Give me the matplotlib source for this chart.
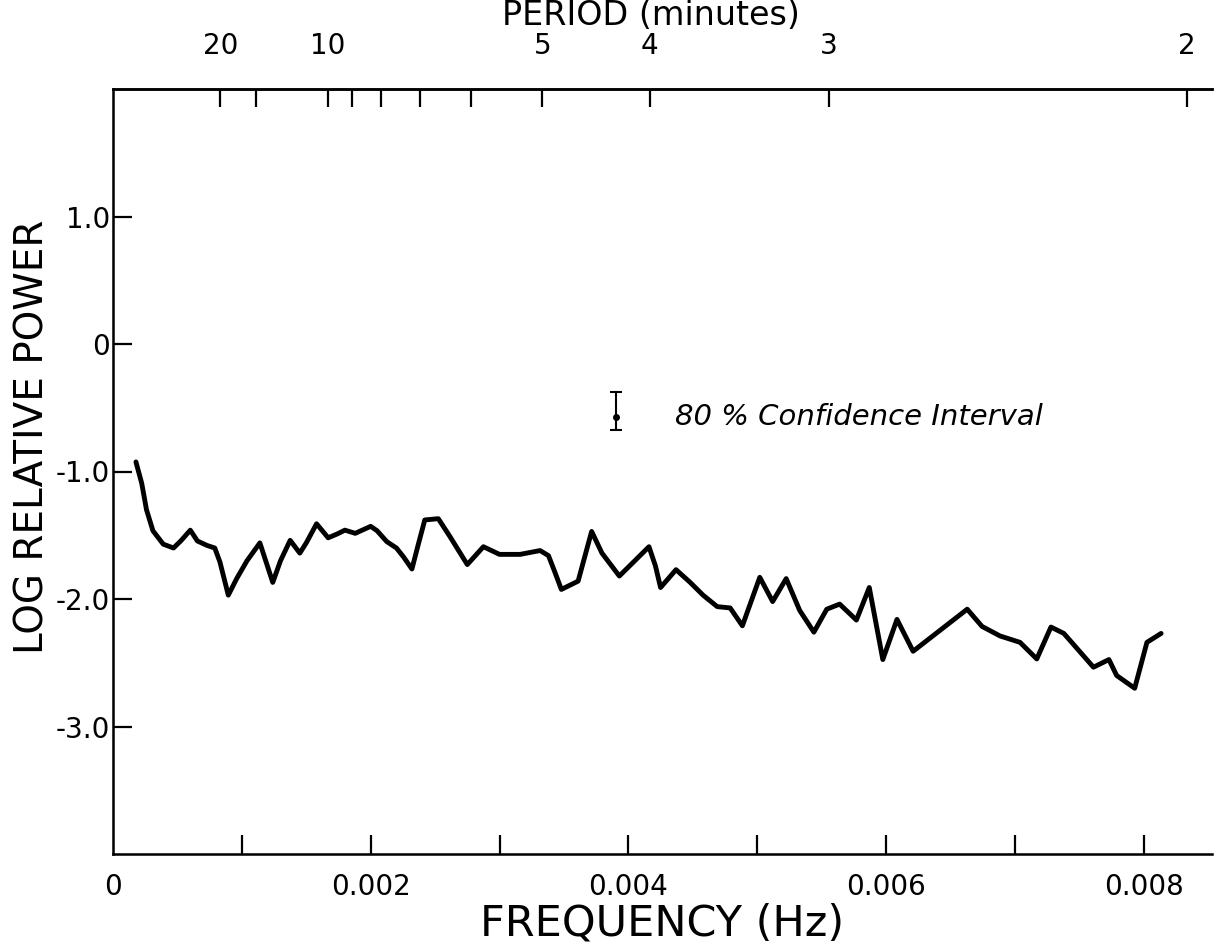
import matplotlib
matplotlib.use("Agg")
import matplotlib.pyplot as plt
import numpy as np

# ---- data (frequency in mHz, log relative power) ----
freq_mhz = [0.178, 0.223, 0.26, 0.31, 0.39, 0.47, 0.53, 0.60, 0.655, 0.73, 0.79, 0.83,
            0.895, 0.96, 1.04, 1.14, 1.24, 1.30, 1.375, 1.45, 1.50, 1.58, 1.67, 1.74,
            1.80, 1.88, 2.00, 2.05, 2.125, 2.20, 2.255, 2.32, 2.37, 2.42, 2.525, 2.615,
            2.75, 2.875, 3.00, 3.16, 3.315, 3.38, 3.43, 3.48, 3.61, 3.715, 3.795, 3.93,
            4.16, 4.21, 4.25, 4.37, 4.48, 4.58, 4.69, 4.79, 4.885, 5.02, 5.12, 5.225,
            5.33, 5.44, 5.54, 5.64, 5.77, 5.87, 5.975, 6.085, 6.21, 6.63, 6.745, 6.885,
            7.04, 7.17, 7.28, 7.38, 7.48, 7.61, 7.73, 7.79, 7.93, 8.025, 8.135]
log_power = [-0.925, -1.093, -1.30, -1.465, -1.57, -1.60, -1.54, -1.46, -1.545, -1.58, -1.60, -1.71,
             -1.97, -1.84, -1.70, -1.56, -1.87, -1.70, -1.54, -1.64, -1.56, -1.41, -1.52, -1.49,
             -1.46, -1.485, -1.43, -1.465, -1.55, -1.60, -1.67, -1.765, -1.57, -1.38, -1.37, -1.51,
             -1.73, -1.59, -1.65, -1.65, -1.62, -1.66, -1.79, -1.925, -1.86, -1.47, -1.64, -1.82,
             -1.59, -1.74, -1.91, -1.77, -1.87, -1.97, -2.06, -2.07, -2.21, -1.83, -2.02, -1.84,
             -2.09, -2.26, -2.08, -2.04, -2.165, -1.91, -2.475, -2.16, -2.41, -2.08, -2.215, -2.29,
             -2.34, -2.47, -2.22, -2.27, -2.385, -2.535, -2.475, -2.60, -2.70, -2.34, -2.27]

x_ticks = [0.001, 0.002, 0.003, 0.004, 0.005, 0.006, 0.007, 0.008]
x_labels = ["", "0.002", "", "0.004", "", "0.006", "", "0.008"]
y_ticks = [1.0, 0.0, -1.0, -2.0, -3.0]
y_labels = ["1.0", "0", "-1.0", "-2.0", "-3.0"]
period_ticks = [20, 15, 10, 9, 8, 7, 6, 5, 4, 3, 2]
period_labeled = [20, 10, 5, 4, 3, 2]

ci_freq = 0.003905
ci_center = -0.57
ci_low = -0.675
ci_high = -0.38

# ---- figure ----
plt.rcParams['font.family'] = ['DejaVu Sans']
fig = plt.figure(figsize=(12.14, 9.52), dpi=100)
ax = fig.add_axes([113/1214, 1-854/952, (1212-113)/1214, (854-89)/952])

fx = np.array(freq_mhz) * 1e-3
ax.plot(fx, log_power, color='black', lw=3.5, solid_joinstyle='round', solid_capstyle='round')

ax.set_xlim(0, 0.00853)
ax.set_ylim(-4.0, 2.0)

for s in ['left', 'bottom', 'top']:
    ax.spines[s].set_linewidth(1.8)
ax.spines['right'].set_visible(False)

ax.set_xticks(x_ticks)
ax.set_xticklabels(x_labels)
ax.tick_params(axis='x', direction='in', length=14, width=1.6, labelsize=20, pad=14)
ax.annotate("0", xy=(0, 0), xycoords=('data', 'axes fraction'), xytext=(0, -14),
            textcoords='offset points', ha='center', va='top', fontsize=20)

ax.set_yticks(y_ticks)
ax.set_yticklabels(y_labels)
ax.tick_params(axis='y', direction='in', length=14, width=1.6, labelsize=20, pad=2)
for lab in ax.get_yticklabels():
    lab.set_verticalalignment('center_baseline')

# top period axis
ax2 = ax.twiny()
ax2.set_xlim(ax.get_xlim())
ax2.spines['right'].set_visible(False)
ax2.spines['top'].set_linewidth(1.8)
ptick_f = [1.0 / (60.0 * p) for p in period_ticks]
ax2.set_xticks(ptick_f)
ax2.set_xticklabels([str(p) if p in period_labeled else "" for p in period_ticks])
ax2.tick_params(axis='x', direction='in', length=13, width=1.6, labelsize=20, pad=21)

fig.text(651/1214, 1-25/952, "PERIOD (minutes)", fontsize=24, ha='center', va='baseline')
ax.set_xlabel("FREQUENCY (Hz)", fontsize=31, labelpad=1)

fig.text(33/1214, 1-437/952, "LOG RELATIVE POWER", rotation=90, fontsize=28,
         ha='center', va='center')

# confidence interval marker
ax.errorbar([ci_freq], [ci_center],
            yerr=[[ci_center - ci_low], [ci_high - ci_center]],
            fmt='o', color='black', ms=4, elinewidth=1.5, capsize=4, capthick=1.5)
ax.text(0.004363, ci_center, "80 % Confidence Interval", fontsize=21, style='italic',
        ha='left', va='center')

fig.savefig("out.png", dpi=100)
